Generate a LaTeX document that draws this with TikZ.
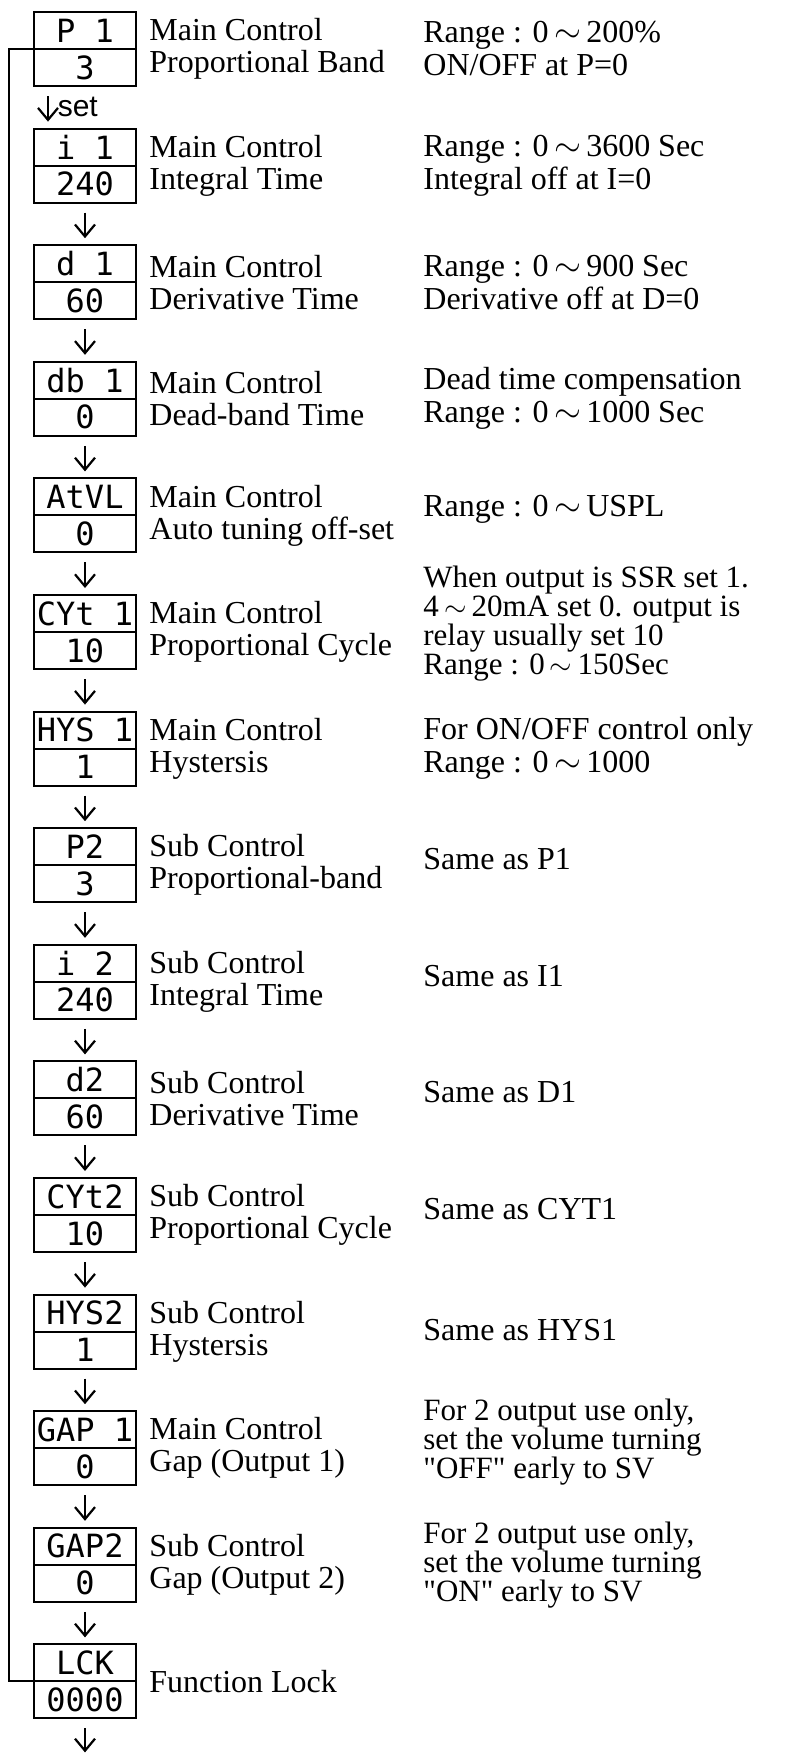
\documentclass[tikz,border=0pt]{standalone}
\usepackage{fontspec}
\setmainfont{Liberation Serif}
\newfontfamily\segfont{DejaVu Sans Mono}
\newfontfamily\setfont{Liberation Sans}
\usetikzlibrary{positioning,arrows.meta}

\begin{document}
\begin{tikzpicture}[
                node distance=21.3pt,
                code/.style={draw, line width=1pt, minimum width=51pt, minimum height=18.5pt, inner sep=0pt, outer sep=0pt, font=\segfont\fontsize{16}{16}\selectfont},
                lbl/.style={anchor=west, align=left, inner sep=0pt, xshift=6.5pt, font=\fontsize{16}{16}\selectfont},
                note/.style={anchor=west, align=left, inner sep=0pt, font=\fontsize{16}{16.5}\selectfont},
                notes/.style={note, font=\fontsize{15.5}{14.5}\selectfont},
                arr/.style={line width=1.1pt, -{Straight Barb[length=6pt,width=10pt]}, shorten <=5pt, shorten >=3.5pt}
            ]
                \useasboundingbox (0,0) rectangle (397pt,-876.5pt);
                \coordinate (rcol) at (211.5pt,0);
                % main control
                \node[code, anchor=north west] (p1) at (17pt,-6pt) {P 1};
                \node[code, below=0pt of p1] (p1v) {3};
                \node[code, below=of p1v] (i1) {i 1};
                \node[code, below=0pt of i1] (i1v) {240};
                \node[code, below=of i1v] (d1) {d 1};
                \node[code, below=0pt of d1] (d1v) {60};
                \node[code, below=of d1v] (db1) {db 1};
                \node[code, below=0pt of db1] (db1v) {0};
                \node[code, below=of db1v] (atvl) {AtVL};
                \node[code, below=0pt of atvl] (atvlv) {0};
                \node[code, below=of atvlv] (cyt1) {CYt 1};
                \node[code, below=0pt of cyt1] (cyt1v) {10};
                \node[code, below=of cyt1v] (hys1) {HYS 1};
                \node[code, below=0pt of hys1] (hys1v) {1};
                % sub control
                \node[code, below=of hys1v] (p2) {P2};
                \node[code, below=0pt of p2] (p2v) {3};
                \node[code, below=of p2v] (i2) {i 2};
                \node[code, below=0pt of i2] (i2v) {240};
                \node[code, below=of i2v] (d2) {d2};
                \node[code, below=0pt of d2] (d2v) {60};
                \node[code, below=of d2v] (cyt2) {CYt2};
                \node[code, below=0pt of cyt2] (cyt2v) {10};
                \node[code, below=of cyt2v] (hys2) {HYS2};
                \node[code, below=0pt of hys2] (hys2v) {1};
                \node[code, below=of hys2v] (gap1) {GAP 1};
                \node[code, below=0pt of gap1] (gap1v) {0};
                \node[code, below=of gap1v] (gap2) {GAP2};
                \node[code, below=0pt of gap2] (gap2v) {0};
                \node[code, below=of gap2v] (lck) {LCK};
                \node[code, below=0pt of lck] (lckv) {0000};
                \coordinate[below=17pt of lckv] (out);

                % names
                \node[lbl] (p1l) at (p1v.north east) {Main Control\\Proportional Band};
                \node[lbl] (i1l) at (i1v.north east) {Main Control\\Integral Time};
                \node[lbl] (d1l) at (d1v.north east) {Main Control\\Derivative Time};
                \node[lbl] (db1l) at (db1v.north east) {Main Control\\Dead-band Time};
                \node[lbl] (atvll) at (atvlv.north east) {Main Control\\Auto tuning off-set};
                \node[lbl] (cyt1l) at (cyt1v.north east) {Main Control\\Proportional Cycle};
                \node[lbl] (hys1l) at (hys1v.north east) {Main Control\\Hystersis};
                \node[lbl] (p2l) at (p2v.north east) {Sub Control\\Proportional-band};
                \node[lbl] (i2l) at (i2v.north east) {Sub Control\\Integral Time};
                \node[lbl] (d2l) at (d2v.north east) {Sub Control\\Derivative Time};
                \node[lbl] (cyt2l) at (cyt2v.north east) {Sub Control\\Proportional Cycle};
                \node[lbl] (hys2l) at (hys2v.north east) {Sub Control\\Hystersis};
                \node[lbl] (gap1l) at (gap1v.north east) {Main Control\\Gap (Output 1)};
                \node[lbl] (gap2l) at (gap2v.north east) {Sub Control\\Gap (Output 2)};
                \node[lbl] (lckl) at (lckv.north east) {Function Lock};

                % notes
                \node[note] (p1n) at (rcol |- p1v.north) {Range : 0\,$\sim$\,200\%\\ON/OFF at P=0};
                \node[note] (i1n) at (rcol |- i1v.north) {Range : 0\,$\sim$\,3600 Sec\\Integral off at I=0};
                \node[note] (d1n) at (rcol |- d1v.north) {Range : 0\,$\sim$\,900 Sec\\Derivative off at D=0};
                \node[note] (db1n) at (rcol |- db1v.north) {Dead time compensation\\Range : 0\,$\sim$\,1000 Sec};
                \node[note, yshift=3pt] (atvln) at (rcol |- atvlv.north) {Range : 0\,$\sim$\,USPL};
                \node[notes, yshift=4pt] (cyt1n) at (rcol |- cyt1v.north) {When output is SSR set 1.\\4\,$\sim$\,20mA set 0. output is\\relay usually set 10\\Range : 0\,$\sim$\,150Sec};
                \node[note] (hys1n) at (rcol |- hys1v.north) {For ON/OFF control only\\Range : 0\,$\sim$\,1000};
                \node[note, yshift=3pt] (p2n) at (rcol |- p2v.north) {Same as P1};
                \node[note, yshift=3pt] (i2n) at (rcol |- i2v.north) {Same as I1};
                \node[note, yshift=3pt] (d2n) at (rcol |- d2v.north) {Same as D1};
                \node[note, yshift=3pt] (cyt2n) at (rcol |- cyt2v.north) {Same as CYT1};
                \node[note, yshift=1pt] (hys2n) at (rcol |- hys2v.north) {Same as HYS1};
                \node[notes, yshift=3pt] (gap1n) at (rcol |- gap1v.north) {For 2 output use only,\\set the volume turning\\\textquotedbl OFF\textquotedbl{} early to SV};
                \node[notes] (gap2n) at (rcol |- gap2v.north) {For 2 output use only,\\set the volume turning\\\textquotedbl ON\textquotedbl{} early to SV};

                % flow
                \draw[arr] ([xshift=-18.5pt]p1v.south) -- ([xshift=-18.5pt]i1.north) node[midway, right=1pt, font=\setfont\fontsize{15}{15}\selectfont] {set};
                \draw[arr] (i1v) -- (d1);
                \draw[arr] (d1v) -- (db1);
                \draw[arr] (db1v) -- (atvl);
                \draw[arr] (atvlv) -- (cyt1);
                \draw[arr] (cyt1v) -- (hys1);
                \draw[arr] (hys1v) -- (p2);
                \draw[arr] (p2v) -- (i2);
                \draw[arr] (i2v) -- (d2);
                \draw[arr] (d2v) -- (cyt2);
                \draw[arr] (cyt2v) -- (hys2);
                \draw[arr] (hys2v) -- (gap1);
                \draw[arr] (gap1v) -- (gap2);
                \draw[arr] (gap2v) -- (lck);
                \draw[arr, shorten >=0pt] (lckv) -- (out);
                \draw[line width=1pt] (p1v.north west) -- ++(-12.5pt,0) |- (lckv.north west);
            \end{tikzpicture}
\end{document}
